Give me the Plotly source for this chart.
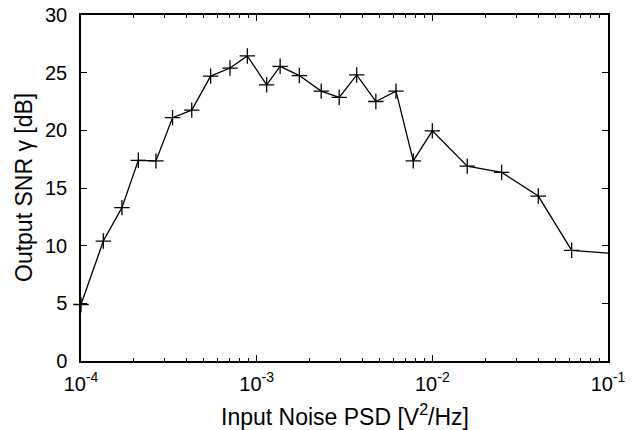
import plotly.graph_objects as go

noise_psd = [1.00e-4, 1.34e-4, 1.71e-4, 2.12e-4, 2.67e-4, 3.32e-4, 4.27e-4, 5.47e-4,
             7.05e-4, 8.85e-4, 1.14e-3, 1.36e-3, 1.75e-3, 2.33e-3, 2.95e-3, 3.71e-3,
             4.77e-3, 6.21e-3, 7.79e-3, 1.00e-2, 1.58e-2, 2.48e-2, 4.01e-2, 6.21e-2, 1.00e-1]
snr_db = [4.9, 10.4, 13.3, 17.4, 17.35, 21.1, 21.75, 24.7,
          25.4, 26.45, 23.95, 25.55, 24.75, 23.4, 22.85, 24.8,
          22.5, 23.4, 17.35, 19.95, 16.9, 16.35, 14.3, 9.6, 9.35]

x_tickvals = [1e-4, 1e-3, 1e-2, 1e-1]
x_ticktext = ["10<sup>-4</sup>", "10<sup>-3</sup>", "10<sup>-2</sup>", "10<sup>-1</sup>"]
x_minor = [m * 10.0 ** e for e in (-4, -3, -2) for m in range(2, 10)]
y_tickvals = [0, 5, 10, 15, 20, 25, 30]

x_title = "Input Noise PSD [V<sup>2</sup>/Hz]"
y_title = "Output SNR γ [dB]"

FONT = "Liberation Sans, Arial, Helvetica, sans-serif"

fig = go.Figure()
fig.add_trace(go.Scatter(
    x=noise_psd, y=snr_db, mode="lines+markers",
    line=dict(color="black", width=1.3),
    marker=dict(symbol="cross-thin", size=11, color="black",
                line=dict(color="black", width=1.3)),
    cliponaxis=False, showlegend=False,
))

fig.update_layout(
    width=642, height=430,
    margin=dict(l=81, r=34, t=15, b=69),
    paper_bgcolor="white", plot_bgcolor="white",
    font=dict(family=FONT, size=20, color="black"),
    annotations=[
        dict(text=x_title, xref="paper", yref="paper", x=0.5, y=0,
             xanchor="center", yanchor="middle", yshift=-54, showarrow=False,
             font=dict(size=23)),
        dict(text=y_title, xref="paper", yref="paper", x=0, y=0.5,
             xanchor="center", yanchor="middle", xshift=-57, textangle=-90,
             showarrow=False, font=dict(size=23)),
    ],
)
fig.update_xaxes(
    type="log", range=[-4, -1], automargin=False,
    tickvals=x_tickvals, ticktext=x_ticktext,
    ticks="inside", ticklen=6, tickwidth=1, tickcolor="black",
    minor=dict(tickvals=x_minor, ticks="inside", ticklen=3, tickwidth=1, tickcolor="black", showgrid=False),
    showline=True, linecolor="black", linewidth=1.5, mirror="allticks",
    showgrid=False, zeroline=False,
    tickfont=dict(size=20), ticklabelstandoff=4,
)
fig.update_yaxes(
    range=[0, 30], tickvals=y_tickvals, automargin=False,
    ticks="inside", ticklen=6, tickwidth=1, tickcolor="black",
    showline=True, linecolor="black", linewidth=1.5, mirror="allticks",
    showgrid=False, zeroline=False,
    tickfont=dict(size=20), ticklabelstandoff=8,
)

fig.write_html(
    "out.html",
    config={"displayModeBar": False},
    post_script="document.body.style.margin='0';document.body.style.overflow='hidden';",
)
